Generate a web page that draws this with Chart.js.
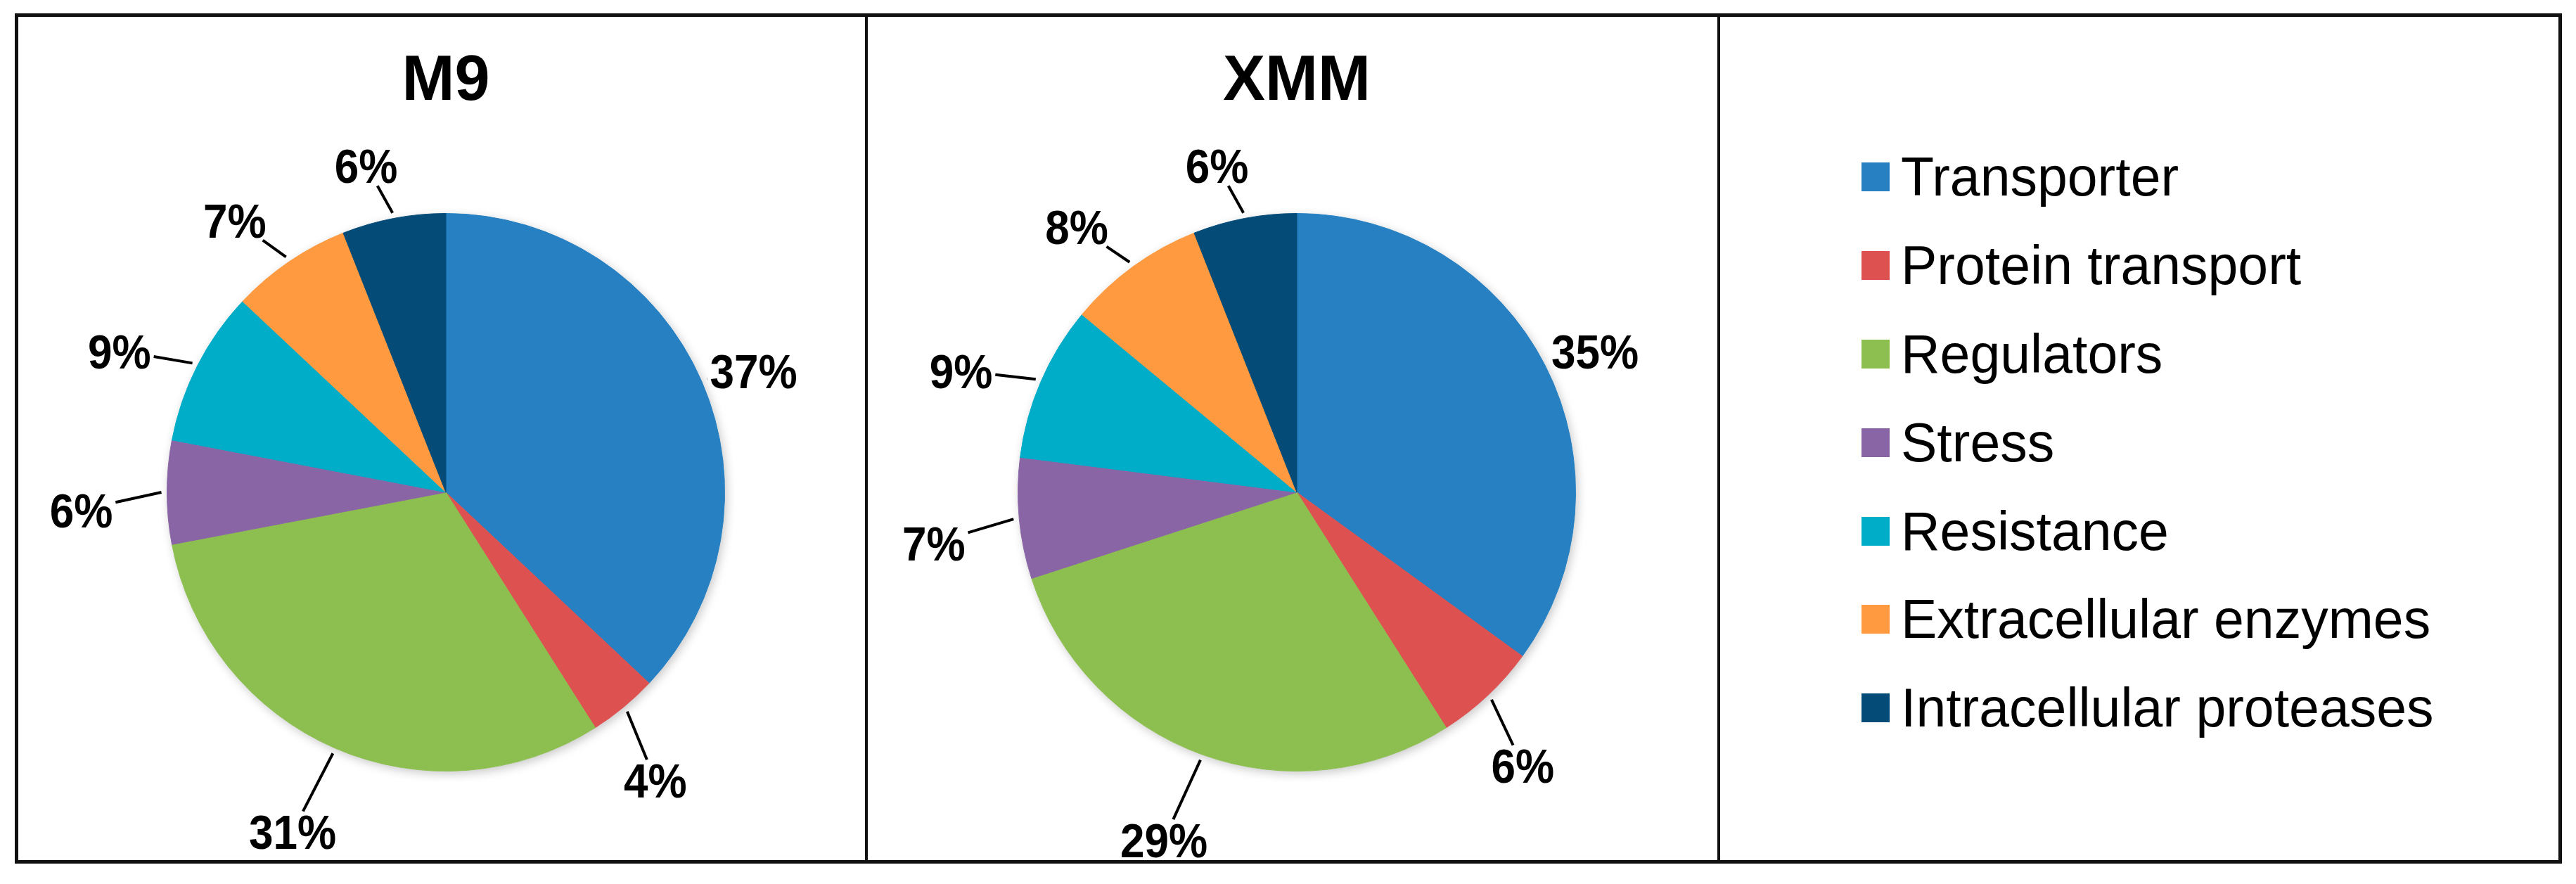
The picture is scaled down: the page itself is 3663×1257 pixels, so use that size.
<!DOCTYPE html>
<html>
<head>
<meta charset="utf-8">
<title>M9 / XMM</title>
<script src="https://cdn.jsdelivr.net/npm/chart.js@4.4.1/dist/chart.umd.min.js"></script>
<style>
  body { margin: 0; background: #fff; width: 3663px; height: 1257px; overflow: hidden;
         font-family: "Liberation Sans", Arial, sans-serif; }
  #frame { position: absolute; left: 21px; top: 19px; width: 3622px; height: 1209px;
           border: 5px solid #111; box-sizing: border-box; }
  .panel { position: absolute; top: 0; height: 1199px; }
  #p1 { left: 0; width: 1204px; border-right: 4px solid #111; }
  #p2 { left: 1208px; width: 1208px; border-right: 4px solid #111; }
  #p3 { left: 2420px; width: 1192px; }
  .box { position: relative; width: 100%; height: 100%; }
  #legend { position: absolute; left: 201px; top: 165px; }
  .item { display: flex; align-items: center; height: 125.8px; font-size: 77px; line-height: 1; color: #000; white-space: nowrap; }
  .sw { width: 40px; height: 41px; margin-right: 16px; flex: none; }
</style>
</head>
<body>
<div id="frame">
  <div class="panel" id="p1"><div class="box"><canvas id="m9Chart"></canvas></div></div>
  <div class="panel" id="p2"><div class="box"><canvas id="xmmChart"></canvas></div></div>
  <div class="panel" id="p3"><div id="legend"></div></div>
</div>
<script>
// ---- data ----
const categories = ['Transporter', 'Protein transport', 'Regulators', 'Stress',
                    'Resistance', 'Extracellular enzymes', 'Intracellular proteases'];
const m9Values  = [37, 4, 31, 6, 9, 7, 6];
const xmmValues = [35, 6, 29, 7, 9, 8, 6];
const colors = ['#2680C2', '#DD5151', '#8DBE50', '#8A65A5', '#00ADC8', '#FF9A40', '#054B78'];

const FONT = '"Liberation Sans", Arial, sans-serif';

// soft grey shadow under the pie
const pieShadow = {
  id: 'pieShadow',
  beforeDatasetsDraw(chart) {
    const arc = chart.getDatasetMeta(0).data[0];
    if (!arc) return;
    const { x, y, outerRadius } = arc.getProps(['x', 'y', 'outerRadius'], true);
    const ctx = chart.ctx;
    ctx.save();
    ctx.shadowColor = 'rgba(0,0,0,0.22)';
    ctx.shadowBlur = 14;
    ctx.shadowOffsetX = 3;
    ctx.shadowOffsetY = 4;
    ctx.beginPath();
    ctx.arc(x, y, outerRadius, 0, Math.PI * 2);
    ctx.fillStyle = '#fff';
    ctx.fill();
    ctx.restore();
  }
};

// percentage labels outside the slices, with leader lines
const outsideLabels = {
  id: 'outsideLabels',
  afterDatasetsDraw(chart, args, opts) {
    const ctx = chart.ctx;
    const values = chart.data.datasets[0].data;
    ctx.save();
    ctx.font = `bold ${opts.size}px ${FONT}`;
    ctx.fillStyle = '#000';
    ctx.strokeStyle = '#000';
    ctx.lineWidth = 4;
    chart.getDatasetMeta(0).data.forEach((arc, i) => {
      const { x, y, startAngle, endAngle, outerRadius: r } =
        arc.getProps(['x', 'y', 'startAngle', 'endAngle', 'outerRadius'], true);
      const mid = (startAngle + endAngle) / 2;
      const ux = Math.cos(mid), uy = Math.sin(mid);
      const txt = values[i] + '%';
      const hw = ctx.measureText(txt).width / 2;
      const hh = opts.size * 0.716 * opts.stretch / 2;
      const dist = r + opts.gap;
      const lx = x + opts.shiftX + ux * dist;
      const ly = y + opts.shiftY + uy * dist;

      // leader line: from just outside the rim towards the label, stopping at its box
      const sx = x + ux * (r + 8), sy = y + uy * (r + 8);
      const dx = lx - sx, dy = ly - sy;
      const m = 4;
      const t = 1 - Math.min((hw + m) / Math.max(Math.abs(dx), 1e-6), (hh + m) / Math.max(Math.abs(dy), 1e-6));
      if (t > 0) {
        ctx.beginPath();
        ctx.moveTo(sx, sy);
        ctx.lineTo(sx + dx * t, sy + dy * t);
        ctx.stroke();
      }

      ctx.save();
      ctx.translate(lx, ly);
      ctx.scale(1, opts.stretch);
      ctx.textAlign = 'center';
      ctx.textBaseline = 'alphabetic';
      ctx.fillText(txt, 0, opts.size * 0.358);
      ctx.restore();
    });
    ctx.restore();
  }
};

function makePie(canvasId, title, values) {
  return new Chart(document.getElementById(canvasId), {
    type: 'pie',
    data: {
      labels: categories,
      datasets: [{
        data: values,
        backgroundColor: colors,
        borderColor: colors,
        borderWidth: 1,
        hoverOffset: 0,
        offset: 0
      }]
    },
    options: {
      responsive: true,
      maintainAspectRatio: false,
      animation: false,
      events: [],
      layout: { padding: { left: 211, right: 199, top: 0, bottom: 126 } },
      plugins: {
        legend: { display: false },
        tooltip: { enabled: false },
        title: {
          display: true,
          text: title,
          color: '#000',
          font: { family: FONT, size: 90, weight: 'bold', lineHeight: 1.2 },
          padding: { top: 39, bottom: 132 }
        },
        outsideLabels: { size: 62, stretch: 1.12, gap: 102, shiftX: -20, shiftY: 25 }
      }
    },
    plugins: [pieShadow, outsideLabels]
  });
}

makePie('m9Chart', 'M9', m9Values);
makePie('xmmChart', 'XMM', xmmValues);

// ---- legend (right panel) ----
const legend = document.getElementById('legend');
categories.forEach((name, i) => {
  const row = document.createElement('div');
  row.className = 'item';
  const sw = document.createElement('span');
  sw.className = 'sw';
  sw.style.background = colors[i];
  row.appendChild(sw);
  row.appendChild(document.createTextNode(name));
  legend.appendChild(row);
});
</script>
</body>
</html>
